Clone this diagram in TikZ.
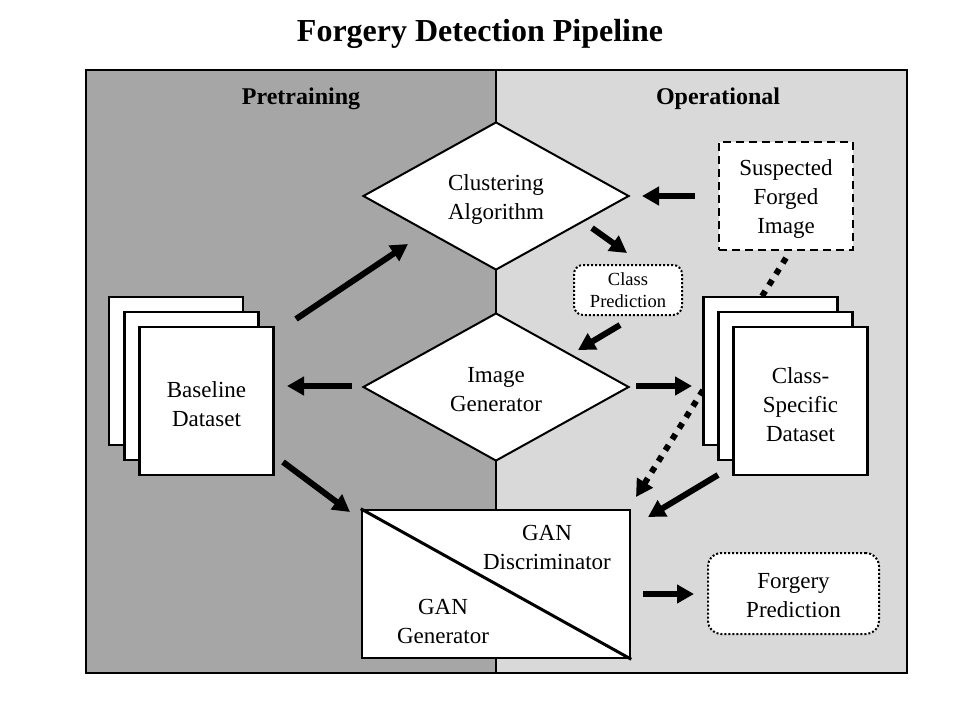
\documentclass[tikz,border=0pt]{standalone}
\usepackage{fontspec}
\setmainfont{Liberation Serif}
\usetikzlibrary{shapes.geometric,arrows.meta,calc}
\definecolor{leftgray}{RGB}{166,166,166}
\definecolor{rightgray}{RGB}{217,217,217}
\begin{document}
\begin{tikzpicture}[x=1pt,y=-1pt,
  txt/.style={font=\fontsize{23}{29}\selectfont,align=center,inner sep=0pt},
  stackbox/.style={draw,line width=2.5pt,fill=white,minimum width=134pt,minimum height=148pt,inner sep=0pt},
  dia/.style={diamond,draw,line width=2pt,fill=white,minimum width=266pt,minimum height=148pt,inner sep=0pt,aspect=1.8},
  arr/.style={line width=6pt,-{Triangle[length=17pt,width=18pt]}},
  dotarr/.style={line width=6pt,dash pattern=on 6pt off 7pt,-{Triangle[length=17pt,width=18pt]}},
  hdr/.style={font=\fontsize{24}{28}\selectfont\bfseries,inner sep=0pt}]
\useasboundingbox (0,0) rectangle (960,720);
% panels
\fill[leftgray] (86,70) rectangle (496,673);
\fill[rightgray] (496,70) rectangle (907,673);
\draw[line width=1.5pt] (86,70) rectangle (907,673);
\draw[line width=1.5pt] (496,70) -- (496,673);
% titles
\node[font=\fontsize{32}{36}\selectfont\bfseries,inner sep=0pt] (title) at (480,34) {Forgery Detection Pipeline};
\node[hdr] (pre) at (301,99) {Pretraining};
\node[hdr] (op) at (718,99) {Operational};
% suspected box and dotted connector (behind the stack)
\node[draw,line width=2pt,dash pattern=on 8pt off 5pt,fill=white,minimum width=134pt,minimum height=108pt] (susp) at (786,196) {};
\node[txt] (suspT) at (786,199) {Suspected\\Forged\\Image};
\coordinate (d1) at (786,258);
\coordinate (d2) at (636,497);
\draw[dotarr] (d1) -- (d2);
% diamonds
\node[dia] (clus) at (496,196) {};
\node[txt] (clusT) at (496,199) {Clustering\\Algorithm};
\node[dia] (gen) at (496,387) {};
\node[txt] (genT) at (496,390) {Image\\Generator};
% stacks
\node[stackbox] (b1) at (176,371) {};
\node[stackbox] (b2) at (191.5,386) {};
\node[stackbox] (b3) at (206.5,401) {};
\node[txt] (b3T) at (206.5,404) {Baseline\\Dataset};
\node[stackbox] (c1) at (770.5,371) {};
\node[stackbox] (c2) at (785.5,386) {};
\node[stackbox] (c3) at (800.5,401) {};
\node[txt] (c3T) at (800.5,405) {Class-\\Specific\\Dataset};
% class prediction
\node[draw,line width=2pt,dotted,rounded corners=9pt,fill=white,minimum width=108pt,minimum height=50pt,align=center,inner sep=0pt,font=\fontsize{18.5}{22}\selectfont] (cp) at (628,290) {Class\\Prediction};
% GAN box
\node[draw,line width=2.5pt,fill=white,minimum width=268pt,minimum height=148pt,inner sep=0pt] (gan) at (496,584) {};
\draw[line width=3pt] (gan.north west) -- (gan.south east);
\node[txt] (disc) at (547,547) {GAN\\Discriminator};
\node[txt] (ggen) at (443,621) {GAN\\Generator};
% forgery prediction
\node[draw,line width=2pt,dotted,rounded corners=13pt,fill=white,minimum width=171pt,minimum height=81pt] (fp) at (793.5,593.5) {};
\node[txt] (fpT) at (793.5,596) {Forgery\\Prediction};
% arrows
\coordinate (a1s) at (296,319); \coordinate (a1e) at (408,244);
\coordinate (a2s) at (695,196); \coordinate (a2e) at (642,196);
\coordinate (a3s) at (592,228); \coordinate (a3e) at (627,253);
\coordinate (a4s) at (620,325); \coordinate (a4e) at (578,350);
\coordinate (a5s) at (352,386); \coordinate (a5e) at (287,386);
\coordinate (a6s) at (636,386); \coordinate (a6e) at (692,386);
\coordinate (a7s) at (283,462); \coordinate (a7e) at (350,512);
\coordinate (a8s) at (718,475); \coordinate (a8e) at (648,517);
\coordinate (a10s) at (643,594); \coordinate (a10e) at (694,594);
\draw[arr] (a1s) -- (a1e);
\draw[arr] (a2s) -- (a2e);
\draw[arr] (a3s) -- (a3e);
\draw[arr] (a4s) -- (a4e);
\draw[arr] (a5s) -- (a5e);
\draw[arr] (a6s) -- (a6e);
\draw[arr] (a7s) -- (a7e);
\draw[arr] (a8s) -- (a8e);
\draw[arr] (a10s) -- (a10e);
\end{tikzpicture}
\end{document}
